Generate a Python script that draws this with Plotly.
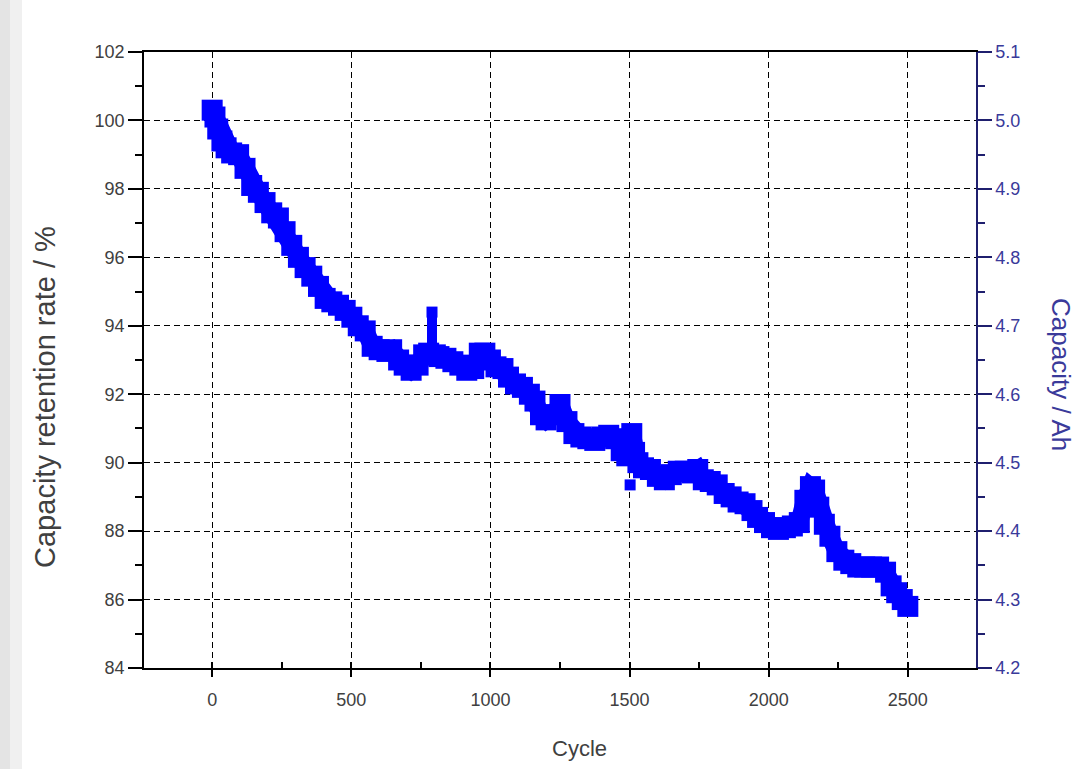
import numpy as np
import plotly.graph_objects as go

cycles = [0, 10, 20, 35, 50, 70, 95, 118, 142, 166, 190, 214, 238, 262, 286, 310,
          334, 358, 382, 406, 430, 454, 478, 502, 525, 550, 575, 600, 628, 645,
          670, 690, 715, 740, 760, 778, 802, 815, 840, 865, 890, 915, 940,
          960, 980, 1000, 1020, 1045, 1065, 1090, 1115, 1140, 1160, 1180, 1200,
          1225, 1250, 1275, 1300, 1325, 1350, 1375, 1400, 1425, 1450, 1470, 1490,
          1508, 1518, 1530, 1550, 1575, 1600, 1625, 1650, 1675, 1700, 1725,
          1745, 1765, 1790, 1815, 1840, 1865, 1890, 1915, 1940, 1960, 1985, 2010,
          2035, 2060, 2085, 2110, 2130, 2150, 2165, 2180, 2200, 2220, 2245, 2270,
          2295, 2320, 2345, 2370, 2395, 2420, 2440, 2460, 2480, 2500]
retention = [100.30, 100.10, 99.75, 99.40, 99.20, 99.05, 99.00, 98.60, 98.10, 97.90,
             97.60, 97.30, 97.15, 96.75, 96.35, 96.00, 95.70, 95.45, 95.15, 94.80,
             94.70, 94.60, 94.45, 94.25, 94.00, 93.85, 93.40, 93.30, 93.25, 93.30,
             93.00, 92.85, 92.70, 92.85, 93.15, 93.20, 93.15, 93.10, 93.05,
             92.95, 92.85, 92.70, 92.75, 93.20, 93.20, 93.00, 92.80, 92.75, 92.50,
             92.30, 92.20, 92.00, 91.80, 91.40, 91.25, 91.40, 91.70, 91.20, 90.85,
             90.75, 90.70, 90.65, 90.75, 90.80, 90.70, 90.35, 90.20, 90.85,
             90.30, 90.00, 89.85, 89.80, 89.60, 89.50, 89.65, 89.75, 89.75, 89.70,
             89.80, 89.50, 89.45, 89.35, 89.10, 89.00, 88.85, 88.80, 88.60, 88.40,
             88.25, 88.10, 88.05, 88.10, 88.15, 88.25, 88.90, 89.30, 89.20, 88.70,
             88.20, 87.85, 87.40, 87.15, 87.05, 86.95, 86.95, 86.95, 86.95, 86.80,
             86.40, 86.20, 86.00, 85.80]
# single outlying readings
spike_cycles = [790]
spike_values = [94.40]
isolated_cycles = [1502]
isolated_values = [89.35]

nominal_capacity_ah = 5.0

x_ticks = [0, 500, 1000, 1500, 2000, 2500]
y_ticks = [84, 86, 88, 90, 92, 94, 96, 98, 100, 102]
y2_ticks = [4.2, 4.3, 4.4, 4.5, 4.6, 4.7, 4.8, 4.9, 5.0, 5.1]

FONT = "Liberation Sans, Arial, sans-serif"
BLUE = "#0000ff"
NAVY = "#1f1f6e"
NAVY_TXT = "#3a3a9a"
GRAY_TXT = "#404040"

fig = go.Figure()
fig.add_trace(go.Scatter(
    x=cycles, y=retention, mode="lines+markers",
    line=dict(color=BLUE, width=18),
    marker=dict(symbol="square", size=21, color=BLUE, line=dict(width=0)),
    showlegend=False,
))
# spike readings drawn as a narrow column rising from the band
for sc, sv in zip(spike_cycles, spike_values):
    base = float(np.interp(sc, cycles, retention))
    fig.add_trace(go.Scatter(
        x=[sc, sc], y=[base, sv], mode="lines+markers",
        line=dict(color=BLUE, width=10),
        marker=dict(symbol="square", size=11, color=BLUE),
        showlegend=False,
    ))
fig.add_trace(go.Scatter(
    x=isolated_cycles, y=isolated_values, mode="markers",
    marker=dict(symbol="square", size=11, color=BLUE),
    showlegend=False,
))
# capacity axis (Ah) shares the same points
fig.add_trace(go.Scatter(
    x=cycles, y=[r / 100 * nominal_capacity_ah for r in retention], yaxis="y2",
    mode="markers", marker=dict(size=1, color=BLUE, opacity=0),
    showlegend=False, hoverinfo="skip",
))

grid_dash = "6px,4px"
fig.update_layout(
    width=1078, height=769,
    margin=dict(l=144, r=102, t=52, b=101),
    paper_bgcolor="white", plot_bgcolor="white",
    font=dict(family=FONT, size=18, color=GRAY_TXT),
    xaxis=dict(
        range=[-245, 2745], tickvals=x_ticks, ticktext=[str(v) for v in x_ticks],
        showline=True, linecolor="black", linewidth=1.5, mirror=True,
        ticks="outside", ticklen=7, tickwidth=1.5, tickcolor="black",
        ticklabelstandoff=8,
        minor=dict(dtick=250, tick0=0, ticks="inside", ticklen=6, tickwidth=1.5,
                   tickcolor="black", showgrid=False),
        showgrid=True, gridcolor="black", gridwidth=1.2, griddash=grid_dash,
        zeroline=False, tickfont=dict(size=18, color=GRAY_TXT),
    ),
    yaxis=dict(
        range=[84, 102], tickvals=y_ticks,
        showline=True, linecolor="black", linewidth=1.5,
        ticks="outside", ticklen=14, tickwidth=1.5, tickcolor="black",
        minor=dict(dtick=1, tick0=84, ticks="outside", ticklen=7, tickwidth=1.5,
                   tickcolor="black", showgrid=False),
        showgrid=True, gridcolor="black", gridwidth=1.2, griddash=grid_dash,
        zeroline=False, tickfont=dict(size=18, color=GRAY_TXT),
    ),
    yaxis2=dict(
        range=[4.2, 5.1], tickvals=y2_ticks, tickformat=".1f",
        overlaying="y", side="right",
        showline=True, linecolor=NAVY, linewidth=1.5,
        ticks="outside", ticklen=14, tickwidth=1.5, tickcolor=NAVY,
        minor=dict(dtick=0.05, tick0=4.2, ticks="outside", ticklen=7, tickwidth=1.5,
                   tickcolor=NAVY, showgrid=False),
        showgrid=False, zeroline=False,
        tickfont=dict(size=18, color=NAVY_TXT),
    ),
    annotations=[
        dict(text="Capacity retention rate / %", xref="paper", yref="paper",
             x=-0.119, y=0.44, xanchor="center", yanchor="middle",
             textangle=-90, showarrow=False,
             font=dict(size=29, color=GRAY_TXT, family=FONT)),
        dict(text="Capacity / Ah", xref="paper", yref="paper",
             x=1.103, y=0.476, xanchor="center", yanchor="middle",
             textangle=90, showarrow=False,
             font=dict(size=26, color=NAVY_TXT, family=FONT)),
        dict(text="Cycle", xref="paper", yref="paper",
             x=0.524, y=-0.13, xanchor="center", yanchor="middle",
             showarrow=False,
             font=dict(size=22, color=GRAY_TXT, family=FONT)),
    ],
    shapes=[
        dict(type="rect", xref="paper", yref="paper", layer="below",
             x0=-144 / 832, x1=-134 / 832, y0=-101 / 616, y1=1 + 52 / 616,
             fillcolor="#e4e4e4", line=dict(width=0)),
        dict(type="rect", xref="paper", yref="paper", layer="below",
             x0=-134 / 832, x1=-122 / 832, y0=-101 / 616, y1=1 + 52 / 616,
             fillcolor="#f0f0f0", line=dict(width=0)),
    ],
)

fig.write_html("out.html", config={"displayModeBar": False})
with open("out.html", "r", encoding="utf-8") as f:
    html = f.read()
html = html.replace("<head>", "<head><style>html,body{margin:0;padding:0;}</style>", 1)
with open("out.html", "w", encoding="utf-8") as f:
    f.write(html)
